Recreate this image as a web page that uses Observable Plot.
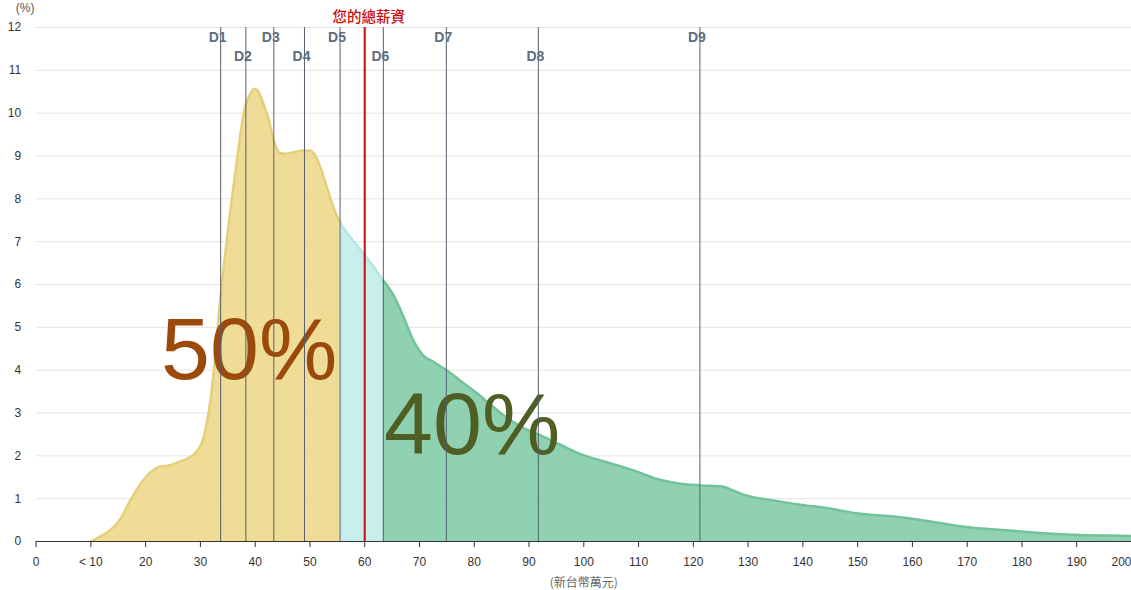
<!DOCTYPE html>
<html>
<head>
<meta charset="utf-8">
<script src="https://cdn.jsdelivr.net/npm/d3@7"></script>
<script src="https://cdn.jsdelivr.net/npm/@observablehq/plot@0.6"></script>
<style>
  html, body { margin: 0; padding: 0; background: #fff; }
</style>
</head>
<body>
<div id="chart"></div>
<script>
// Income (萬元) sample points along the density curve
const income = [10, 11.75, 13.6, 15.4, 17.2, 19.1, 20.9, 22.7, 24.5, 26.3, 28.2, 29.4, 30.3, 31.1, 31.9, 32.8, 33.6, 34.6, 35.7, 36.9, 37.9, 39.1, 39.9, 40.6, 41.5, 42.5, 43.4, 44.3, 45.2, 47, 48.9, 50.1, 51, 51.9, 53.1, 54.3, 55.5, 56.8, 58.4, 60, 61.7, 63.4, 65.3, 67.1, 68.9, 70.7, 72.6, 75, 77.4, 80.5, 83.5, 86.6, 89, 91.7, 95.7, 100, 104.8, 109.1, 113.9, 117.6, 121.2, 125.5, 127.3, 129.8, 134.6, 139.5, 144.4, 150.4, 155, 160, 165, 171.1, 177.2, 183.3, 189.4, 195.5, 200];
// Share of earners (%)
const percent = [0, 0.12, 0.27, 0.53, 0.96, 1.35, 1.62, 1.75, 1.78, 1.87, 1.97, 2.12, 2.32, 2.72, 3.35, 4.46, 5.63, 6.8, 7.96, 9.13, 10.0, 10.45, 10.57, 10.5, 10.22, 9.83, 9.36, 9.09, 9.05, 9.09, 9.13, 9.12, 9.0, 8.74, 8.27, 7.8, 7.45, 7.2, 6.95, 6.68, 6.4, 6.09, 5.74, 5.24, 4.69, 4.34, 4.19, 3.99, 3.76, 3.46, 3.14, 2.83, 2.65, 2.5, 2.26, 2.01, 1.83, 1.66, 1.44, 1.35, 1.31, 1.28, 1.19, 1.07, 0.96, 0.86, 0.78, 0.65, 0.6, 0.53, 0.43, 0.32, 0.26, 0.2, 0.16, 0.14, 0.13];

const decileNames = ["D1", "D2", "D3", "D4", "D5", "D6", "D7", "D8", "D9"];
const decileValues = [33.7, 38.3, 43.4, 49.0, 55.5, 63.4, 74.9, 91.7, 121.2];
const mySalary = 60;
const mySalaryLabel = "您的總薪資";

const xTicks = [0, 10, 20, 30, 40, 50, 60, 70, 80, 90, 100, 110, 120, 130, 140, 150, 160, 170, 180, 190, 200];
const xTickLabels = ["0", "< 10", "20", "30", "40", "50", "60", "70", "80", "90", "100", "110", "120", "130", "140", "150", "160", "170", "180", "190", "200"];
const yTicks = [0, 1, 2, 3, 4, 5, 6, 7, 8, 9, 10, 11, 12];

const bigLabels = [
  {text: "50%", x: 38.9, y: 3.8, color: "#9b4a0b"},
  {text: "40%", x: 79.6, y: 2.05, color: "#4f5e22"}
];

const rows = income.map((x, i) => ({x, y: percent[i]}));
const d5 = decileValues[4], d6 = decileValues[5];
const low = rows.filter(d => d.x <= d5);
const mid = rows.filter(d => d.x >= d5 && d.x <= d6);
const high = rows.filter(d => d.x >= d6);
const decileRows = decileNames.map((n, i) => ({name: n, x: decileValues[i], row: i % 2}));

const lastTick = xTicks[xTicks.length - 1];
const fmt = d => xTickLabels[xTicks.indexOf(d)];
const curve = "monotone-x";

const chart = Plot.plot({
  width: 1131,
  height: 590,
  marginLeft: 35.6,
  marginRight: 0,
  marginTop: 27,
  marginBottom: 49,
  style: {fontFamily: "'Liberation Sans', Arial, sans-serif", fontSize: "12px", color: "#333", background: "#fff"},
  x: {domain: [0, 200]},
  y: {domain: [0, 12]},
  marks: [
    Plot.gridY(yTicks, {stroke: "#e4e4e4", strokeOpacity: 1}),
    Plot.areaY(low, {x: "x", y: "y", fill: "#ecd684", fillOpacity: 0.85, curve}),
    Plot.areaY(mid, {x: "x", y: "y", fill: "#beebeb", fillOpacity: 0.85, curve}),
    Plot.areaY(high, {x: "x", y: "y", fill: "#7bc9a2", fillOpacity: 0.85, curve}),
    Plot.line(low, {x: "x", y: "y", stroke: "#e6cf7a", strokeWidth: 2.5, curve}),
    Plot.line(mid, {x: "x", y: "y", stroke: "#b4e6e4", strokeWidth: 2.5, curve}),
    Plot.line(high, {x: "x", y: "y", stroke: "#74c29c", strokeWidth: 2.5, curve}),
    Plot.text(bigLabels, {x: "x", y: "y", text: "text", fill: "color", textAnchor: "middle", lineAnchor: "bottom", fontSize: 88, fontFamily: "'Liberation Sans', Arial, sans-serif"}),
    Plot.ruleX(decileRows, {x: "x", y1: 0, y2: 12, stroke: "#556070", strokeWidth: 1}),
    Plot.ruleX([mySalary], {y1: 0, y2: 12, stroke: "#c80c0c", strokeWidth: 2}),
    Plot.text(decileRows.filter(d => d.row === 0), {x: "x", y: 12, text: "name", dx: -3, dy: 10, fill: "#5e6e7e", fontWeight: "bold", fontSize: 14, lineAnchor: "middle"}),
    Plot.text(decileRows.filter(d => d.row === 1), {x: "x", y: 12, text: "name", dx: -3, dy: 29, fill: "#5e6e7e", fontWeight: "bold", fontSize: 14, lineAnchor: "middle"}),
    Plot.text([mySalaryLabel], {x: mySalary, y: 12, text: d => d, dx: 4, dy: -10, fill: "#c80c0c", fontSize: 14.5, fontWeight: 500, lineAnchor: "middle",
      fontFamily: "'Noto Sans CJK TC', sans-serif"}),
    Plot.text(["(%)"], {frameAnchor: "top-left", text: d => d, dx: -11, dy: -19, textAnchor: "middle", lineAnchor: "middle", fill: "#555", fontSize: 12}),
    Plot.axisY({ticks: yTicks, tickSize: 0, tickPadding: 15, label: null, fontSize: 12, fill: "#333"}),
    Plot.axisX({ticks: xTicks, tickFormat: d => d === lastTick ? "" : fmt(d), tickSize: 6, tickPadding: 10, fontSize: 12,
      stroke: "#333", fill: "#333", label: null}),
    Plot.axisX({ticks: [lastTick], tickFormat: fmt, tickSize: 0, tickPadding: 16, dx: -10, fontSize: 12,
      stroke: "#333", fill: "#333", label: null}),
    Plot.ruleY([0], {stroke: "#333", strokeWidth: 1.2}),
    Plot.text(["(新台幣萬元)"], {frameAnchor: "bottom", text: d => d, dy: 42, fill: "#666", fontSize: 12, lineAnchor: "middle",
      fontFamily: "'Noto Sans CJK TC', sans-serif"})
  ]
});
document.getElementById("chart").appendChild(chart);
</script>
</body>
</html>
